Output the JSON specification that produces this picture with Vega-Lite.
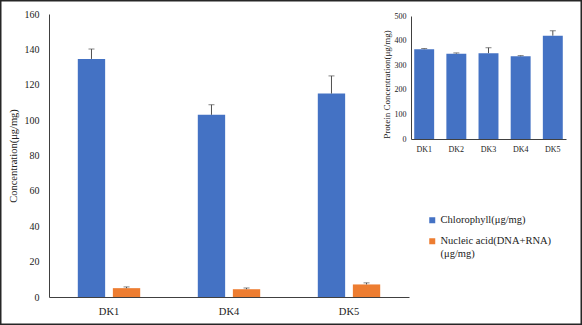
{
  "$schema": "https://vega.github.io/schema/vega-lite/v6.json",
  "width": 582,
  "height": 325,
  "autosize": {"type": "none"},
  "padding": 0,
  "background": "white",
  "config": {
    "view": {"stroke": "#262626", "strokeWidth": 3},
    "font": "Liberation Serif",
    "axis": {"labelFont": "Liberation Serif", "titleFont": "Liberation Serif", "labelColor": "#222", "titleColor": "#222", "titleFontWeight": "normal", "grid": false, "ticks": false, "domainColor": "#404040", "domainWidth": 1},
    "legend": {"labelFont": "Liberation Serif"}
  },
  "layer": [
    {
      "data": {"values": [
        {"sample": "DK1", "series": "Chlorophyll(μg/mg)", "value": 134.6, "upper": 140.2},
        {"sample": "DK1", "series": "Nucleic acid(DNA+RNA) (μg/mg)", "value": 5.0, "upper": 5.7},
        {"sample": "DK4", "series": "Chlorophyll(μg/mg)", "value": 103.0, "upper": 108.7},
        {"sample": "DK4", "series": "Nucleic acid(DNA+RNA) (μg/mg)", "value": 4.4, "upper": 5.1},
        {"sample": "DK5", "series": "Chlorophyll(μg/mg)", "value": 115.0, "upper": 125.0},
        {"sample": "DK5", "series": "Nucleic acid(DNA+RNA) (μg/mg)", "value": 7.1, "upper": 8.0}
      ]},
      "encoding": {
        "x": {"field": "sample", "type": "nominal", "sort": null,
          "scale": {"domain": ["DK1", "DK4", "DK5"], "range": [49, 409], "paddingInner": 0.48, "paddingOuter": 0.24},
          "axis": {"orient": "bottom", "offset": -28, "title": null, "labelFont": "Liberation Serif", "labelFontSize": 10.5, "labelPadding": 9, "labelAngle": 0}},
        "xOffset": {"field": "series", "type": "nominal", "scale": {"paddingInner": 0.22}},
        "y": {"type": "quantitative"}
      },
      "layer": [
        {
          "mark": {"type": "bar"},
          "encoding": {
            "y": {"field": "value", "type": "quantitative",
              "scale": {"domain": [0, 160], "range": [297, 14], "nice": false},
              "axis": {"orient": "left", "offset": -49, "values": [0, 20, 40, 60, 80, 100, 120, 140, 160], "labelFont": "Liberation Serif", "titleFont": "Liberation Serif", "labelFontSize": 10, "labelPadding": 10, "title": "Concentration(μg/mg)", "titleFontSize": 10.5, "titlePadding": 6}},
            "color": {"field": "series", "type": "nominal",
              "scale": {"domain": ["Chlorophyll(μg/mg)", "Nucleic acid(DNA+RNA) (μg/mg)"], "range": ["#4472C4", "#ED7D31"]},
              "legend": {"orient": "none", "legendX": 427, "legendY": 215, "title": null, "symbolType": "square", "symbolSize": 36, "labelFont": "Liberation Serif", "labelFontSize": 10.5, "labelColor": "#222", "labelOffset": 3, "rowPadding": 10, "labelExpr": "datum.label == 'Nucleic acid(DNA+RNA) (μg/mg)' ? ['Nucleic acid(DNA+RNA)', '(μg/mg)'] : datum.label"}}
          }
        },
        {
          "mark": {"type": "rule", "color": "#505050", "strokeWidth": 1},
          "encoding": {
            "y": {"field": "value", "type": "quantitative"},
            "y2": {"field": "upper"}
          }
        },
        {
          "mark": {"type": "tick", "color": "#505050", "thickness": 1, "size": 6},
          "encoding": {
            "y": {"field": "upper", "type": "quantitative"}
          }
        }
      ]
    },
    {
      "data": {"values": [
        {"strain": "DK1", "protein": 365, "top": 368},
        {"strain": "DK2", "protein": 347, "top": 350},
        {"strain": "DK3", "protein": 349, "top": 371},
        {"strain": "DK4", "protein": 336, "top": 339},
        {"strain": "DK5", "protein": 420, "top": 440}
      ]},
      "encoding": {
        "x": {"field": "strain", "type": "nominal", "sort": null,
          "scale": {"domain": ["DK1", "DK2", "DK3", "DK4", "DK5"], "range": [411, 566], "paddingInner": 0.38, "paddingOuter": 0.1},
          "axis": {"orient": "bottom", "offset": -186, "title": null, "labelFont": "Liberation Serif", "labelFontSize": 8, "labelPadding": 6, "labelAngle": 0}},
        "y": {"type": "quantitative"}
      },
      "layer": [
        {
          "mark": {"type": "bar", "color": "#4472C4"},
          "encoding": {
            "y": {"field": "protein", "type": "quantitative",
              "scale": {"domain": [0, 500], "range": [139, 16], "nice": false},
              "axis": {"orient": "left", "offset": -411, "values": [0, 50, 100, 150, 200, 250, 300, 350, 400, 450, 500], "labelFont": "Liberation Serif", "titleFont": "Liberation Serif", "labelFontSize": 8, "labelPadding": 5, "title": "Protein Concentration(μg/mg)", "titleFontSize": 9, "titlePadding": 3, "titleY": 84}}
          }
        },
        {
          "mark": {"type": "rule", "color": "#505050", "strokeWidth": 1},
          "encoding": {
            "y": {"field": "protein", "type": "quantitative"},
            "y2": {"field": "top"}
          }
        },
        {
          "mark": {"type": "tick", "color": "#505050", "thickness": 1, "size": 6},
          "encoding": {
            "y": {"field": "top", "type": "quantitative"}
          }
        }
      ]
    }
  ],
  "resolve": {"scale": {"x": "independent", "y": "independent", "color": "independent"}, "axis": {"x": "independent", "y": "independent"}}
}
